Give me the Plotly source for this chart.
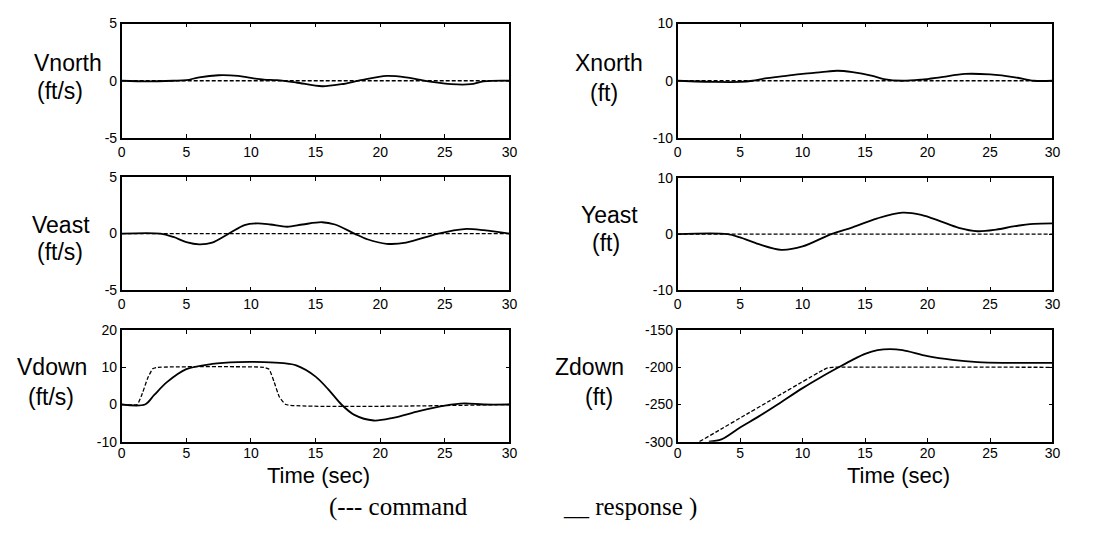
import plotly.graph_objects as go

W, H = 1105, 537

# ---- data: time knots (s) and channel values ----
t_zero = [0, 30]
cmd_zero = [0, 0]

t_vnorth = [0, 2, 4, 5, 6, 7.5, 9, 10, 11, 12, 13.5, 15.5, 17, 18.5, 20.5, 22, 23, 24, 25.5, 27, 28, 30]
vnorth_resp = [0, -0.05, 0, 0.05, 0.3, 0.48, 0.42, 0.25, 0.1, 0.05, -0.15, -0.48, -0.3, 0.05, 0.42, 0.3, 0.1, -0.1, -0.3, -0.3, -0.05, 0]

t_veast = [0, 3, 4, 5, 6, 7, 8.3, 9.5, 10.5, 11.5, 12.8, 14, 15.5, 16.5, 18, 19, 20.5, 22, 24.5, 26.5, 28, 30]
veast_resp = [0, 0, -0.3, -0.75, -0.95, -0.8, 0, 0.75, 0.9, 0.8, 0.6, 0.8, 1.0, 0.8, 0, -0.5, -0.9, -0.8, 0, 0.4, 0.3, 0]

t_vdown_cmd = [0, 1.2, 1.6, 2.0, 2.4, 2.8, 11.0, 11.4, 11.8, 12.2, 12.7, 30]
vdown_cmd = [0, 0, 3, 7, 9.6, 10, 10, 9.5, 6, 2, 0, 0]
t_vdown = [0, 1.8, 2.5, 3.5, 5, 7, 9, 11, 12.5, 13.5, 15, 16, 17, 18, 19.5, 21, 23, 25, 26.5, 28, 30]
vdown_resp = [0, 0, 2.5, 6, 9.5, 10.9, 11.4, 11.4, 11.1, 10.5, 7.5, 4, 0, -2.8, -4.3, -3.6, -1.8, -0.3, 0.3, 0, 0]

t_xnorth = [0, 3, 5, 6, 7, 8.5, 10, 11.5, 12.8, 14, 15.5, 16.5, 18, 19.5, 21, 23, 25, 27, 28.5, 30]
xnorth_resp = [0, -0.2, -0.2, 0, 0.4, 0.8, 1.2, 1.5, 1.75, 1.5, 0.9, 0.3, 0, 0.2, 0.6, 1.2, 1.1, 0.6, 0, 0]

t_yeast = [0, 4, 5, 6.5, 8.3, 10, 12.3, 14, 16, 18, 19.5, 21, 22.5, 24, 25.5, 27, 28.5, 30]
yeast_resp = [0, 0, -0.6, -1.8, -2.8, -2.2, 0, 1.2, 2.8, 3.8, 3.4, 2.3, 1.1, 0.5, 0.8, 1.4, 1.8, 1.9]

t_zdown_cmd = [1.75, 11.6, 12.0, 12.4, 30]
zdown_cmd = [-300, -204, -200.8, -200, -200]
t_zdown = [2.5, 3.5, 5, 6.5, 8, 10, 11.5, 13, 14, 15, 16, 17, 18, 20, 22, 24, 26, 30]
zdown_resp = [-300, -297, -281, -266, -250, -228, -213, -199, -190, -182, -177, -175.5, -177, -185, -190, -193, -194, -194]

x_ticks = [0, 5, 10, 15, 20, 25, 30]

panels = [
    dict(xs=(119, 511), ys=(16, 134), yr=(-5, 5), yt=[-5, 0, 5],
         cmd=(t_zero, cmd_zero), resp=(t_vnorth, vnorth_resp),
         lab=("Vnorth", "(ft/s)"), lx=(65, 57), ly=(57, 86), bottom=False),
    dict(xs=(681, 1060), ys=(16, 134), yr=(-10, 10), yt=[-10, 0, 10],
         cmd=(t_zero, cmd_zero), resp=(t_xnorth, xnorth_resp),
         lab=("Xnorth", "(ft)"), lx=(612, 607), ly=(57, 88), bottom=False),
    dict(xs=(119, 511), ys=(174, 291), yr=(-5, 5), yt=[-5, 0, 5],
         cmd=(t_zero, cmd_zero), resp=(t_veast, veast_resp),
         lab=("Veast", "(ft/s)"), lx=(58, 57), ly=(224, 252), bottom=False),
    dict(xs=(681, 1060), ys=(175, 291), yr=(-10, 10), yt=[-10, 0, 10],
         cmd=(t_zero, cmd_zero), resp=(t_yeast, yeast_resp),
         lab=("Yeast", "(ft)"), lx=(612, 609), ly=(213, 242), bottom=False),
    dict(xs=(119, 511), ys=(332, 447), yr=(-10, 20), yt=[-10, 0, 10, 20],
         cmd=(t_vdown_cmd, vdown_cmd), resp=(t_vdown, vdown_resp),
         lab=("Vdown", "(ft/s)"), lx=(49, 48), ly=(370, 401), bottom=True),
    dict(xs=(681, 1060), ys=(332, 447), yr=(-300, -150), yt=[-300, -250, -200, -150],
         cmd=(t_zdown_cmd, zdown_cmd), resp=(t_zdown, zdown_resp),
         lab=("Zdown", "(ft)"), lx=(592, 602), ly=(370, 401), bottom=True),
]

SANS = "Arial, Liberation Sans, sans-serif"
SERIF = "Times New Roman, Liberation Serif, serif"

fig = go.Figure()
layout = dict(
    width=W, height=H, autosize=False,
    margin=dict(l=0, r=0, t=0, b=0),
    paper_bgcolor="white", plot_bgcolor="white",
    showlegend=False, annotations=[],
)

axis_common = dict(
    showline=True, linecolor="black", linewidth=1.6, mirror="ticks",
    ticks="inside", ticklen=4, tickwidth=1, tickcolor="black",
    showgrid=False, zeroline=False,
    tickfont=dict(family=SANS, size=14, color="black"),
)

for i, p in enumerate(panels, start=1):
    sfx = "" if i == 1 else str(i)
    xa, ya = f"x{sfx}", f"y{sfx}"
    layout[f"xaxis{sfx}"] = dict(
        axis_common, domain=[p["xs"][0] / W, p["xs"][1] / W], anchor=ya,
        range=[0, 30], tickvals=x_ticks, ticktext=[str(v) for v in x_ticks],
        ticklabelstandoff=-2 if p["bottom"] else 0,
    )
    layout[f"yaxis{sfx}"] = dict(
        axis_common, domain=[1 - p["ys"][1] / H, 1 - p["ys"][0] / H], anchor=xa,
        range=list(p["yr"]), tickvals=p["yt"], ticktext=[str(v) for v in p["yt"]],
    )
    fig.add_trace(go.Scatter(
        x=p["cmd"][0], y=p["cmd"][1], xaxis=xa, yaxis=ya, mode="lines",
        line=dict(color="black", width=1.3, dash="4px,2px", shape="spline", smoothing=0.4),
        hoverinfo="skip",
    ))
    fig.add_trace(go.Scatter(
        x=p["resp"][0], y=p["resp"][1], xaxis=xa, yaxis=ya, mode="lines",
        line=dict(color="black", width=1.8, shape="spline", smoothing=0.9),
        hoverinfo="skip",
    ))
    for text, cx, cy in zip(p["lab"], p["lx"], p["ly"]):
        layout["annotations"].append(dict(
            text=text, x=cx / W, y=1 - cy / H, xref="paper", yref="paper",
            xanchor="center", yanchor="middle", showarrow=False,
            font=dict(family=SANS, size=23, color="black"),
        ))

# x-axis titles under the bottom row
for cx in (318, 904):
    layout["annotations"].append(dict(
        text="Time (sec)", x=cx / W, y=1 - 482 / H, xref="paper", yref="paper",
        xanchor="center", yanchor="middle", showarrow=False,
        font=dict(family=SANS, size=22, color="black"),
    ))

# line-style key
layout["annotations"].append(dict(
    text="(--- command", x=327 / W, y=1 - 514 / H, xref="paper", yref="paper",
    xanchor="left", yanchor="middle", showarrow=False,
    font=dict(family=SERIF, size=25, color="black"),
))
layout["annotations"].append(dict(
    text="__ response )", x=703 / W, y=1 - 514 / H, xref="paper", yref="paper",
    xanchor="right", yanchor="middle", showarrow=False,
    font=dict(family=SERIF, size=25, color="black"),
))

fig.update_layout(**layout)
fig.write_html("out.html")
